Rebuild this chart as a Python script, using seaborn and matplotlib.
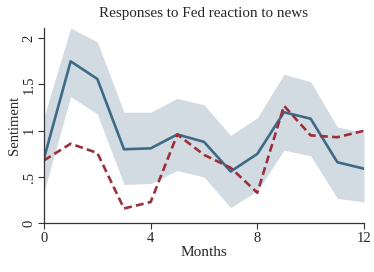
import matplotlib
matplotlib.use("Agg")
import matplotlib.pyplot as plt
import pandas as pd
import seaborn as sns

# horizon (months)
months = list(range(13))

# response to Fed reaction (solid) and its confidence band
response = [0.70, 1.75, 1.56, 0.80, 0.81, 0.96, 0.88, 0.56, 0.75, 1.20, 1.13, 0.66, 0.59]
band_upper = [1.15, 2.11, 1.96, 1.20, 1.20, 1.35, 1.28, 0.95, 1.14, 1.61, 1.53, 1.04, 0.98]
band_lower = [0.34, 1.37, 1.18, 0.42, 0.43, 0.57, 0.50, 0.17, 0.35, 0.79, 0.73, 0.27, 0.23]

# comparison response (dashed)
response_alt = [0.68, 0.86, 0.76, 0.16, 0.23, 0.96, 0.74, 0.60, 0.33, 1.27, 0.95, 0.93, 1.00]

x_ticks = [0, 4, 8, 12]
y_ticks = [0, 0.5, 1, 1.5, 2]
y_ticklabels = ["0", ".5", "1", "1.5", "2"]

sns.set_style("ticks")
plt.rcParams["font.family"] = ["Liberation Serif", "DejaVu Serif"]

df = pd.DataFrame({"month": months, "resp": response, "alt": response_alt})

fig = plt.figure(figsize=(3.74, 2.72), dpi=100)
ax = fig.add_axes([0.1176, 0.179, 0.8557, 0.718])

ax.fill_between(months, band_lower, band_upper, color="#d2dbe2", linewidth=0)
sns.lineplot(data=df, x="month", y="resp", ax=ax, color="#3d6a84", linewidth=1.9)
sns.lineplot(data=df, x="month", y="alt", ax=ax, color="#9b2f3a", linewidth=1.9,
             linestyle=(0, (3, 1.6)))

ax.set_xlim(0, 12)
ax.set_ylim(0, 2.11)
ax.set_xticks(x_ticks)
ax.set_yticks(y_ticks)
ax.set_yticklabels(y_ticklabels, rotation=90, va="center")
ax.tick_params(labelsize=10.5, length=4, width=0.8, color="#333333", pad=2)
ax.set_xlabel("Months", fontsize=11, labelpad=1)
ax.set_ylabel("Sentiment", fontsize=10.5, labelpad=1)
ax.set_title("Responses to Fed reaction to news", fontsize=10.9, pad=8)

sns.despine(ax=ax)
for side in ["left", "bottom"]:
    ax.spines[side].set_color("#333333")
    ax.spines[side].set_linewidth(0.9)

fig.savefig("out.png", dpi=100)
